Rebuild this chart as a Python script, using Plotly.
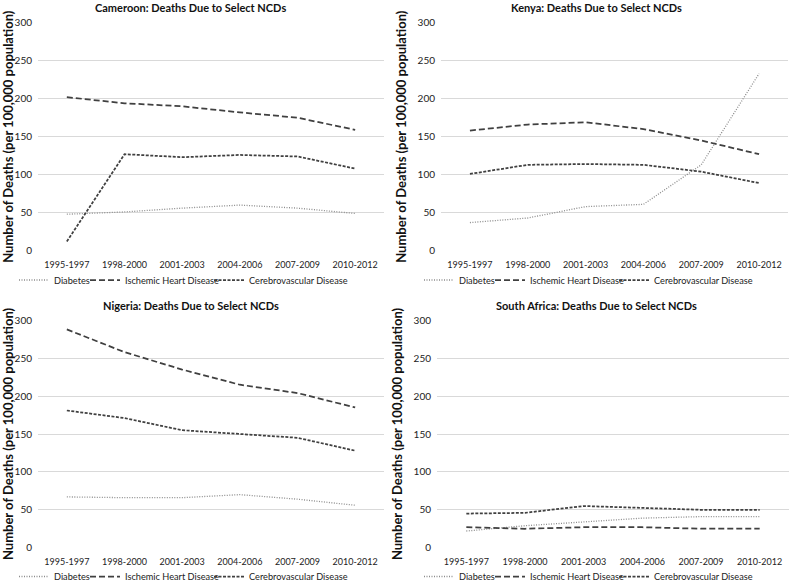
import plotly.graph_objects as go

periods = ["1995-1997", "1998-2000", "2001-2003", "2004-2006", "2007-2009", "2010-2012"]
series_names = ["Diabetes", "Ischemic Heart Disease", "Cerebrovascular Disease"]
countries = ["Cameroon", "Kenya", "Nigeria", "South Africa"]

cameroon_diabetes = [48, 51, 56, 60, 56, 49]
cameroon_ihd = [202, 194, 190, 182, 175, 159]
cameroon_cvd = [12, 127, 123, 126, 124, 108]

kenya_diabetes = [37, 43, 58, 61, 113, 233]
kenya_ihd = [158, 166, 169, 160, 145, 127]
kenya_cvd = [101, 113, 114, 113, 104, 89]

nigeria_diabetes = [67, 66, 66, 70, 64, 56]
nigeria_ihd = [288, 258, 235, 215, 204, 185]
nigeria_cvd = [181, 171, 155, 150, 145, 128]

sa_diabetes = [22, 29, 34, 39, 41, 41]
sa_ihd = [27, 25, 27, 27, 25, 25]
sa_cvd = [45, 46, 55, 52, 50, 50]

data = {
    "Cameroon": [cameroon_diabetes, cameroon_ihd, cameroon_cvd],
    "Kenya": [kenya_diabetes, kenya_ihd, kenya_cvd],
    "Nigeria": [nigeria_diabetes, nigeria_ihd, nigeria_cvd],
    "South Africa": [sa_diabetes, sa_ihd, sa_cvd],
}

W, H = 790, 582
FONT = "Lato"

# panel pixel boxes: (x0, x1, ytop, ybottom)
boxes = [
    (38, 384, 22.7, 250.7),
    (441, 788, 22.7, 250.7),
    (38, 384, 320.3, 547.7),
    (437, 789, 320.3, 547.7),
]
# legend text start x for each series, per panel
legend_text_x = [
    (55, 126, 250),
    (460, 531, 655),
    (55, 126, 250),
    (460, 531, 655),
]
legend_row_y = [280, 280, 576.5, 576.5]
title_pos = [(190.7, 7.5), (596.7, 7.5), (190.8, 305), (596.7, 305)]
TEXT_OFFSET = 41  # px from legend left edge to its text

styles = [
    dict(color="#8c8c8c", width=1.3, dash="1px,1.5px"),
    dict(color="#404040", width=1.75, dash="6px,3px"),
    dict(color="#404040", width=1.75, dash="3px,1.5px"),
]

fig = go.Figure()
layout = dict(
    width=W, height=H,
    margin=dict(l=0, r=0, t=0, b=0, autoexpand=False),
    paper_bgcolor="white", plot_bgcolor="white",
    font=dict(family=FONT, size=10, color="#222"),
    showlegend=True,
)
annotations = []

for i, c in enumerate(countries):
    n = "" if i == 0 else str(i + 1)
    for s, name in enumerate(series_names):
        k = i * 3 + s + 1
        lg = "legend" if k == 1 else f"legend{k}"
        fig.add_trace(go.Scatter(
            x=periods, y=data[c][s], name=name, mode="lines",
            line=styles[s], xaxis="x" + n, yaxis="y" + n, legend=lg,
            showlegend=True, hoverinfo="skip",
        ))
        layout[lg] = dict(
            orientation="h", x=(legend_text_x[i][s] - TEXT_OFFSET) / W,
            y=1 - legend_row_y[i] / H,
            xanchor="left", yanchor="middle",
            bgcolor="rgba(0,0,0,0)", borderwidth=0,
            font=dict(family=FONT, size=9.2, color="#222"), itemwidth=30,
        )
    x0, x1, yt, yb = boxes[i]
    layout["xaxis" + n] = dict(
        domain=[x0 / W, x1 / W], anchor="y" + n, type="category",
        range=[-0.5, 5.5], showgrid=False, zeroline=False, showline=False,
        ticks="outside", ticklen=5, tickcolor="rgba(0,0,0,0)", tickangle=0,
        tickfont=dict(family=FONT, size=9, color="#222"),
    )
    layout["yaxis" + n] = dict(
        domain=[1 - yb / H, 1 - yt / H], anchor="x" + n,
        range=[0, 300], dtick=50, showgrid=True, gridcolor="#d9d9d9",
        gridwidth=1, zeroline=False, showline=False,
        ticks="outside", ticklen=3, tickcolor="rgba(0,0,0,0)",
        tickfont=dict(family=FONT, size=10, color="#222"),
        title=dict(text="Number of Deaths (per 100,000 population)",
                   font=dict(family=FONT, size=13, color="#111", weight="bold"),
                   standoff=8),
    )
    tx, ty = title_pos[i]
    annotations.append(dict(
        text=f"{c}: Deaths Due to Select NCDs", x=tx / W, y=1 - ty / H,
        xref="paper", yref="paper", showarrow=False, xanchor="center", yanchor="middle",
        font=dict(family=FONT, size=11, color="#111", weight="bold"),
    ))

layout["annotations"] = annotations
fig.update_layout(**layout)
fig.write_html(
    "out.html",
    config={"displayModeBar": False, "responsive": False},
    post_script="document.body.style.margin='0';document.body.style.padding='0';",
)
